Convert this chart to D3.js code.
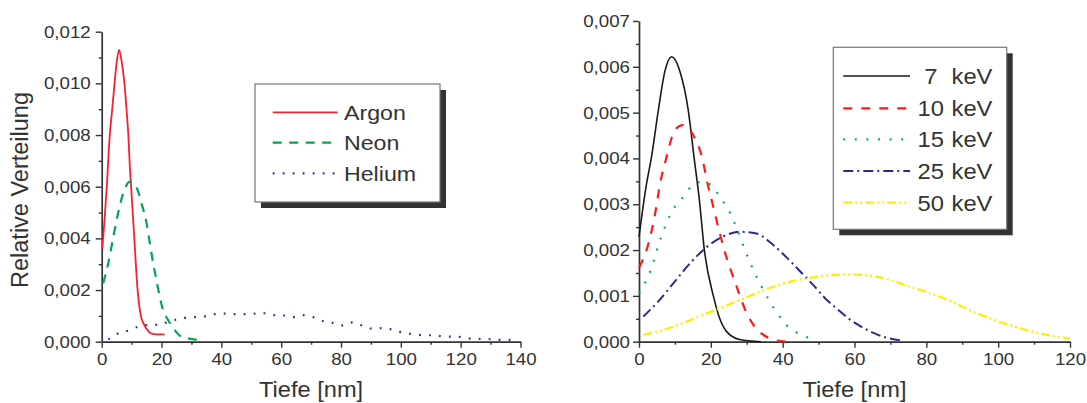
<!DOCTYPE html>
<html><head><meta charset="utf-8">
<script src="https://cdn.jsdelivr.net/npm/d3@7"></script>
<style>
html,body{margin:0;padding:0;background:#fff;}
svg{display:block;}
text{font-family:"Liberation Sans",Arial,Helvetica,sans-serif;fill:#333;}
</style></head>
<body><svg id="chart" width="1087" height="403"></svg>
<script>
// ---------- DATA (left panel) ----------
const argonX = [0.2,1,1.7,2.7,3.6,4.3,5,5.8,6.6,7.6,8.3,8.9,9.4,10,10.9,12,13.1,14,15,16,17,19,21];
const argonY = [0.0036,0.0048,0.0060,0.0080,0.0091,0.0100,0.0108,0.0113,0.0109,0.0100,0.0090,0.0080,0.0068,0.0057,0.0040,0.0020,0.0010,0.0007,0.0005,0.00036,0.0003,0.00028,0.00028];
const neonX = [0.5,2.2,3.9,5.5,7.2,9.4,11.7,13.3,15,16.1,17.2,18.3,19.4,20.5,22.2,24.4,26.7,28.9,32.2];
const neonY = [0.00226,0.00304,0.00407,0.00498,0.00575,0.0062,0.00595,0.00536,0.00459,0.00381,0.00304,0.00239,0.00174,0.00123,0.00084,0.00045,0.00019,0.00013,0.00007];
const heliumX = [2.2,5.5,8.9,12.2,16.1,19.4,22.8,26.1,29.4,32.8,36.3,39.6,43,46.3,49.6,53.5,56.8,60.2,63.5,66.9,70.2,73.6,76.9,80.3,83.9,87.4,90.7,94.2,97.6,100.9,104.3,107.6,111,114.3,118,121.3,124.7,128.2,131.5,134.9,138.4];
const heliumY = [0.00009,0.00032,0.00043,0.00058,0.00065,0.00065,0.00081,0.00087,0.00095,0.00095,0.00103,0.0011,0.00107,0.00107,0.00107,0.00112,0.00103,0.00103,0.00094,0.00103,0.00097,0.00081,0.00074,0.00063,0.00075,0.00061,0.0005,0.00053,0.00045,0.00035,0.00029,0.00025,0.00025,0.0002,0.0002,0.00016,0.0001,0.00012,0.00007,0.00007,0.00007];
const leftNames = ["Argon","Neon","Helium"];
const leftXTicks = [0,20,40,60,80,100,120,140];
const leftYTicks = [0,0.002,0.004,0.006,0.008,0.010,0.012];

// ---------- DATA (right panel) ----------
const e7X  = [0,2,3.5,5.4,7.2,9.1,11.4,13.7,15.3,16.8,18.2,20.7,22.5,24.4,28,34];
const e7Y  = [0.00229,0.0034,0.00404,0.00506,0.0059,0.00622,0.0059,0.00506,0.00404,0.0031,0.0020,0.0010,0.0005,0.00022,0.00005,0];
const e10X = [0,2.1,4.5,5.8,7.7,10,12.3,15.1,17.5,19.3,20.2,23.5,27.2,30,32.7,35,37.3,41];
const e10Y = [0.00162,0.0020,0.0028,0.00342,0.00404,0.00462,0.00473,0.00451,0.00404,0.00338,0.0031,0.00207,0.0012,0.00062,0.00028,0.00013,0.00005,0];
const e15X = [0,3.1,5.4,7.2,9.6,12.3,14.7,17.5,20.3,23,24.4,27.2,29.5,32.3,35.1,38.4,41.1,43.9,46.7,49.5];
const e15Y = [0.00106,0.00153,0.0021,0.0025,0.0029,0.00316,0.0034,0.00349,0.0034,0.0031,0.00295,0.00248,0.0020,0.00149,0.00106,0.00063,0.00036,0.0002,0.0001,0.00003];
const e25X = [1.2,4.9,9.6,14.2,18.9,23,28.1,32.7,37.4,42.1,45.3,48.6,51.8,55.1,58.8,62.5,66.2,69.9,73.6];
const e25Y = [0.00055,0.00084,0.00128,0.00171,0.00207,0.00228,0.0024,0.00236,0.00211,0.00176,0.0015,0.00123,0.00095,0.00072,0.00048,0.0003,0.00016,0.00007,0.00002];
const e50X = [1.2,4.9,9.6,14.2,18.9,23.5,28.1,32.7,37.4,42.1,46.7,50.4,58.8,66.2,75.5,84.8,94.1,103.3,111.7,120];
const e50Y = [0.00015,0.00022,0.00033,0.00047,0.00062,0.00076,0.00091,0.00106,0.0012,0.00131,0.00138,0.00143,0.00147,0.00142,0.0012,0.00095,0.00062,0.00036,0.00018,0.00007];
const energies = [7,10,15,25,50];
const energyUnit = "keV";
const rightXTicks = [0,20,40,60,80,100,120];
const rightYTicks = [0,0.001,0.002,0.003,0.004,0.005,0.006,0.007];
const xTitle = "Tiefe [nm]";
const yTitle = "Relative Verteilung";

// ---------- helpers ----------
const svg = d3.select("#chart");
const loc = d3.formatLocale({decimal:",", thousands:".", grouping:[3], currency:["","€"]});
const fmt3 = loc.format(".3f");
const zip = (xs, ys) => xs.map((x,i)=>[x, ys[i]]);
function stretch(sel, k){
  sel.each(function(){
    const w = this.getComputedTextLength();
    this.setAttribute("textLength", (w*k).toFixed(2));
    this.setAttribute("lengthAdjust","spacingAndGlyphs");
  });
}
const axisColor = "#333";

function panel(cfg){
  const x = d3.scaleLinear().domain(cfg.xDomain).range(cfg.xRange);
  const y = d3.scaleLinear().domain(cfg.yDomain).range(cfg.yRange);
  const g = svg.append("g");
  const xMinor = [];
  for(let i=0;i<cfg.xTicks.length-1;i++) xMinor.push((cfg.xTicks[i]+cfg.xTicks[i+1])/2);
  const yMinor = [];
  for(let i=0;i<cfg.yTicks.length-1;i++) yMinor.push((cfg.yTicks[i]+cfg.yTicks[i+1])/2);

  const gx = g.append("g").attr("transform",`translate(0,${cfg.yRange[0]})`)
    .call(d3.axisBottom(x).tickValues(cfg.xTicks).tickSize(6).tickSizeOuter(0).tickPadding(5).tickFormat(d3.format("d")));
  g.append("g").attr("transform",`translate(0,${cfg.yRange[0]})`)
    .call(d3.axisBottom(x).tickValues(xMinor).tickSize(3).tickSizeOuter(0).tickFormat(""))
    .select(".domain").remove();
  g.append("g").attr("transform",`translate(${cfg.xRange[0]},0)`)
    .call(d3.axisLeft(y).tickValues(cfg.yTicks).tickSize(6).tickSizeOuter(0).tickPadding(cfg.yPad).tickFormat(cfg.yFmt));
  g.append("g").attr("transform",`translate(${cfg.xRange[0]},0)`)
    .call(d3.axisLeft(y).tickValues(yMinor).tickSize(3).tickSizeOuter(0).tickFormat(""))
    .select(".domain").remove();
  g.selectAll(".domain").attr("stroke",axisColor).attr("stroke-width",1.7);
  g.selectAll(".tick line").attr("stroke",axisColor).attr("stroke-width",1.4);
  g.selectAll(".tick text").attr("font-size",17).attr("fill","#333")
    .style("font-family",'"Liberation Sans",Arial,sans-serif');
  gx.selectAll(".tick text").attr("dy","0.71em");
  stretch(g.selectAll(".tick text"), 1.1);

  const xt = g.append("text").attr("x",(cfg.xRange[0]+cfg.xRange[1])/2).attr("y",397)
    .attr("text-anchor","middle").attr("font-size",22.5).text(xTitle);
  stretch(xt, 1.05);

  const line = d3.line().x(d=>x(d[0])).y(d=>y(d[1])).curve(d3.curveMonotoneX);
  cfg.series.forEach(s=>{
    g.append("path").datum(zip(s.x,s.y)).attr("d",line)
      .attr("fill","none").attr("stroke",s.color).attr("stroke-width",s.w||1.8)
      .attr("stroke-dasharray",s.dash||null).attr("stroke-linecap",s.cap||"butt");
  });
  return {g,x,y};
}

// ---------- LEFT PANEL ----------
const leftSeries = [
  {x:argonX, y:argonY, color:"#f5222d", w:1.8},
  {x:neonX, y:neonY, color:"#00a651", w:2.2, dash:"9,7.5"},
  {x:heliumX, y:heliumY, color:"#2e3192", w:2.2, dash:"1.8,8.2"}
];
panel({xDomain:[0,140], xRange:[101.7,520.5], yDomain:[0,0.012], yRange:[341.7,31.7],
  xTicks:leftXTicks, yTicks:leftYTicks, yFmt:fmt3, yPad:5, series:leftSeries});

svg.append("text").attr("transform","translate(28,190) rotate(-90)")
  .attr("text-anchor","middle").attr("font-size",23.5).text(yTitle);

(function(){
  const bx=255, by=84, bw=185, bh=118, off=6;
  const lg = svg.append("g");
  lg.append("rect").attr("x",bx+off).attr("y",by+off).attr("width",bw).attr("height",bh).attr("fill","#333");
  lg.append("rect").attr("x",bx).attr("y",by).attr("width",bw).attr("height",bh)
    .attr("fill","#fff").attr("stroke","#777").attr("stroke-width",1.2);
  const rowY = [112.3,142.6,173.3];
  leftSeries.forEach((s,i)=>{
    lg.append("line").attr("x1",272.7).attr("x2",337.7).attr("y1",rowY[i]).attr("y2",rowY[i])
      .attr("stroke",s.color).attr("stroke-width",s.w).attr("stroke-dasharray",s.dash||null);
    const t = lg.append("text").attr("x",344).attr("y",rowY[i]+7.4).attr("font-size",20.5).text(leftNames[i]);
    stretch(t,1.13);
  });
})();

// ---------- RIGHT PANEL ----------
const rightSeries = [
  {x:e7X, y:e7Y, color:"#1a1a1a", w:1.6},
  {x:e10X, y:e10Y, color:"#ff1a1a", w:2.2, dash:"9,9"},
  {x:e15X, y:e15Y, color:"#00a651", w:2.2, dash:"1.8,9.8"},
  {x:e25X, y:e25Y, color:"#2b2b8f", w:2.0, dash:"10,4,2,4"},
  {x:e50X, y:e50Y, color:"#ffee00", w:2.2, dash:"9,3,2,3,2,3"}
];
panel({xDomain:[0,120], xRange:[639,1070], yDomain:[0,0.007], yRange:[341.7,21],
  xTicks:rightXTicks, yTicks:rightYTicks, yFmt:fmt3, yPad:3, series:rightSeries});

(function(){
  const bx=833.3, by=47.3, bw=173.4, bh=182, off=6;
  const lg = svg.append("g");
  lg.append("rect").attr("x",bx+off).attr("y",by+off).attr("width",bw).attr("height",bh).attr("fill","#333");
  lg.append("rect").attr("x",bx).attr("y",by).attr("width",bw).attr("height",bh)
    .attr("fill","#fff").attr("stroke","#777").attr("stroke-width",1.2);
  const rowY = [76,108.3,139.3,171,202.7];
  rightSeries.forEach((s,i)=>{
    lg.append("line").attr("x1",843.3).attr("x2",910).attr("y1",rowY[i]).attr("y2",rowY[i])
      .attr("stroke",s.color).attr("stroke-width",s.w).attr("stroke-dasharray",s.dash||null);
    const tn = lg.append("text").attr("x",930.8).attr("y",rowY[i]+8).attr("text-anchor","middle")
      .attr("font-size",22).text(energies[i]);
    stretch(tn,1.08);
    const tu = lg.append("text").attr("x",951.5).attr("y",rowY[i]+8)
      .attr("font-size",22).text(energyUnit);
    stretch(tu,1.08);
  });
})();
</script></body></html>
